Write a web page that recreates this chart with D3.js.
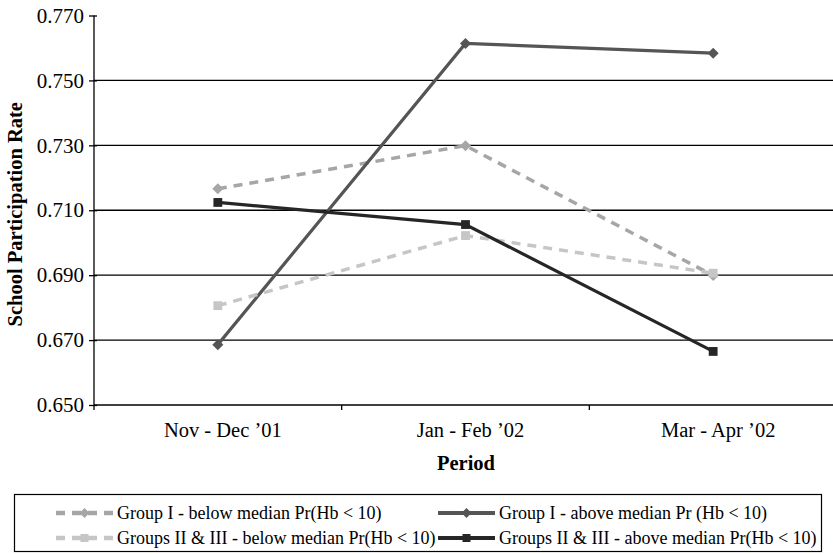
<!DOCTYPE html>
<html>
<head>
<meta charset="utf-8">
<script src="https://cdn.jsdelivr.net/npm/d3@7"></script>
<style>
  html, body { margin: 0; padding: 0; background: #fff; }
  svg { display: block; }
  text { font-family: "Liberation Serif", "Times New Roman", serif; fill: #000; }
</style>
</head>
<body>
<svg id="chart" width="833" height="554"></svg>
<script>
const periods = ["Nov - Dec \u201901", "Jan - Feb \u201902", "Mar - Apr \u201902"];
const yTicks = [0.650, 0.670, 0.690, 0.710, 0.730, 0.750, 0.770];
const seriesNames = [
  "Group I - below median Pr(Hb < 10)",
  "Group I - above median Pr (Hb < 10)",
  "Groups II & III - below median Pr(Hb < 10)",
  "Groups II & III - above median Pr(Hb < 10)"
];
const groupIBelow = [0.7166, 0.7299, 0.6899];
const groupIAbove = [0.6686, 0.7614, 0.7584];
const groupsIIIIIBelow = [0.6806, 0.7022, 0.6906];
const groupsIIIIIAbove = [0.7124, 0.7056, 0.6665];

const styles = [
  { color: "#a6a6a6", dash: "9,7", marker: "diamond", width: 3.5 },
  { color: "#555555", dash: null, marker: "diamond", width: 3.2 },
  { color: "#c6c6c6", dash: "9,7", marker: "square", width: 3.5 },
  { color: "#262626", dash: null, marker: "square", width: 3.2 }
];
const seriesValues = [groupIBelow, groupIAbove, groupsIIIIIBelow, groupsIIIIIAbove];

const svg = d3.select("#chart");
const mLeft = 94, mRight = 837, mTop = 15.5, mBottom = 405;

const x = d3.scaleBand().domain(periods).range([mLeft, mRight]);
const y = d3.scaleLinear().domain([0.650, 0.770]).range([mBottom, mTop]);

// gridlines
svg.append("g").selectAll("line")
  .data(yTicks.filter(t => t > 0.651 && t < 0.769))
  .join("line")
  .attr("x1", mLeft).attr("x2", 833)
  .attr("y1", d => y(d)).attr("y2", d => y(d))
  .attr("stroke", "#000").attr("stroke-width", 1.3);

// y axis
const yAxis = svg.append("g").attr("transform", `translate(${mLeft},0)`)
  .call(d3.axisLeft(y).tickValues(yTicks).tickFormat(d3.format(".3f")).tickSize(5).tickPadding(5));
yAxis.select(".domain").attr("stroke", "#000").attr("stroke-width", 1.3).attr("d", `M0,${mTop}V${mBottom}`);
yAxis.selectAll(".tick line").attr("stroke", "#000").attr("stroke-width", 1.3).attr("x1", 3);
yAxis.selectAll(".tick text").attr("font-size", 21).attr("font-family", "Liberation Serif");

// x axis
const xAxis = svg.append("g").attr("transform", `translate(0,${mBottom})`)
  .call(d3.axisBottom(x).tickSize(0).tickPadding(17));
xAxis.select(".domain").attr("stroke", "#000").attr("stroke-width", 1.3).attr("d", `M${mLeft},0H833`);
xAxis.selectAll(".tick text").attr("font-size", 20.5).attr("font-family", "Liberation Serif").attr("dx", 5);
// category boundary ticks
svg.append("g").selectAll("line")
  .data(periods)
  .join("line")
  .attr("x1", d => x(d)).attr("x2", d => x(d))
  .attr("y1", mBottom).attr("y2", mBottom + 5)
  .attr("stroke", "#000").attr("stroke-width", 1.3);

// axis titles
svg.append("text")
  .attr("transform", `translate(22,${(mTop + mBottom) / 2 + 4}) rotate(-90)`)
  .attr("text-anchor", "middle")
  .attr("font-size", 20.5).attr("font-weight", "bold")
  .text("School Participation Rate");
svg.append("text")
  .attr("x", 466).attr("y", 470)
  .attr("text-anchor", "middle")
  .attr("font-size", 20.5).attr("font-weight", "bold")
  .text("Period");

const cx = d => x(d) + x.bandwidth() / 2;

function drawMarker(g, type, color, px, py, s) {
  if (type === "diamond") {
    g.append("path")
      .attr("d", `M${px},${py - s}L${px + s},${py}L${px},${py + s}L${px - s},${py}Z`)
      .attr("fill", color);
  } else {
    g.append("rect")
      .attr("x", px - s * 0.8).attr("y", py - s * 0.8)
      .attr("width", s * 1.6).attr("height", s * 1.6)
      .attr("fill", color);
  }
}

const line = d3.line().x((d, i) => cx(periods[i])).y(d => y(d));

seriesValues.forEach((vals, si) => {
  const st = styles[si];
  const g = svg.append("g");
  g.append("path")
    .attr("d", line(vals))
    .attr("fill", "none")
    .attr("stroke", st.color)
    .attr("stroke-width", st.width)
    .attr("stroke-dasharray", st.dash);
  vals.forEach((v, i) => drawMarker(g, st.marker, st.color, cx(periods[i]), y(v), 5.5));
});

// legend
const lg = svg.append("g");
lg.append("rect").attr("x", 14.5).attr("y", 494.5).attr("width", 807).attr("height", 57)
  .attr("fill", "#fff").attr("stroke", "#000").attr("stroke-width", 1.2);
const legendPos = [
  { x: 56, y: 513 }, { x: 438, y: 513 },
  { x: 56, y: 538 }, { x: 438, y: 538 }
];
seriesNames.forEach((name, si) => {
  const st = styles[si];
  const p = legendPos[si];
  lg.append("line")
    .attr("x1", p.x).attr("x2", p.x + 57)
    .attr("y1", p.y).attr("y2", p.y)
    .attr("stroke", st.color).attr("stroke-width", st.width + 0.8)
    .attr("stroke-dasharray", st.dash);
  drawMarker(lg, st.marker, st.color, p.x + 28.5, p.y, 5);
  lg.append("text")
    .attr("x", p.x + 61).attr("y", p.y + 6)
    .attr("font-size", 18)
    .text(name);
});
</script>
</body>
</html>
